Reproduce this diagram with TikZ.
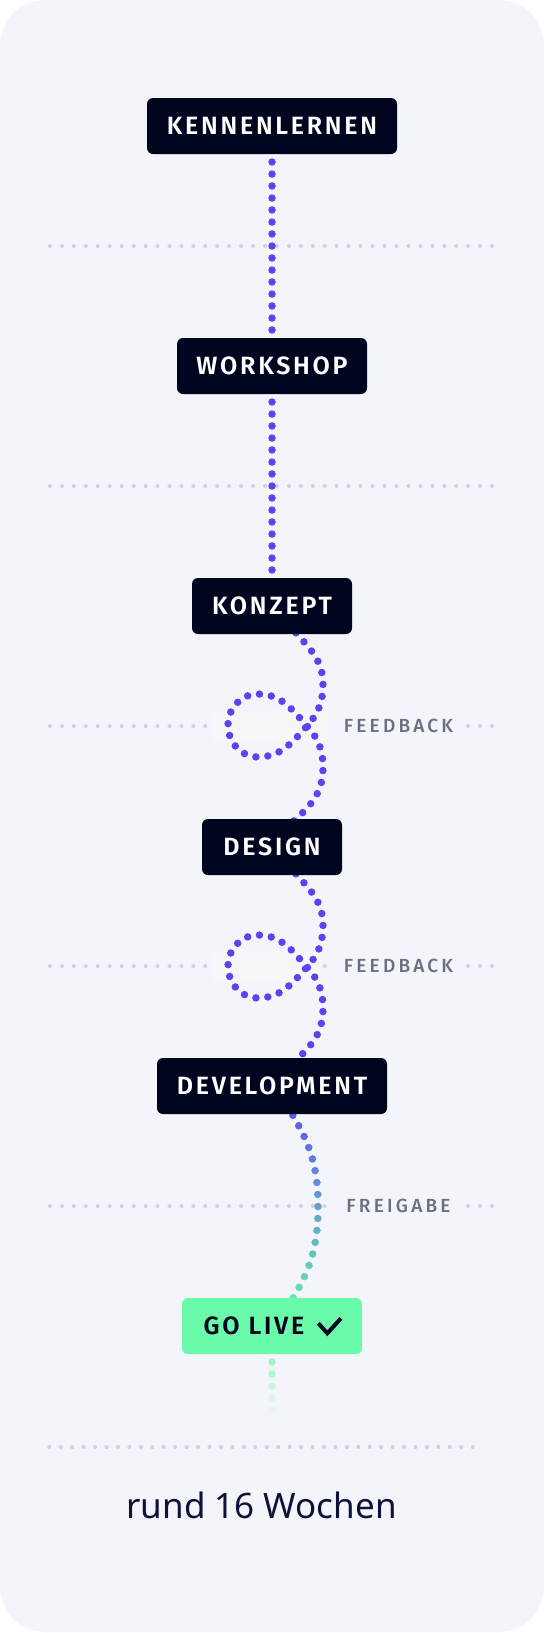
\documentclass[tikz,border=0pt]{standalone}
\usepackage{fontspec}
\setmainfont{Noto Sans}
\newfontfamily\boxfont[LetterSpace=11]{Fira Sans SemiBold}
\newfontfamily\labfont[LetterSpace=17]{Fira Sans Medium}
\usetikzlibrary{calc}
\definecolor{bgc}{HTML}{F4F5FA}
\definecolor{navy}{HTML}{00051F}
\definecolor{purp}{HTML}{5B43EE}
\definecolor{grn}{HTML}{6AFBAA}
\definecolor{dotgray}{HTML}{CDD3E1}
\definecolor{labgray}{HTML}{687183}
\definecolor{txtnavy}{HTML}{0E1238}
\definecolor{coverc}{HTML}{F7F7F9}
\pgfdeclarelayer{back}
\pgfdeclarelayer{lines}
\pgfsetlayers{back,lines,main}
\begin{document}
\begin{tikzpicture}[x=1pt,y=1pt,
  stage/.style={fill=navy, text=white, rounded corners=6pt, minimum height=56pt, inner sep=0pt,
    font=\boxfont\fontsize{25}{25}\selectfont},
  live/.style={stage, fill=grn, text=navy},
  fblabel/.style={text=labgray, inner sep=0pt, font=\labfont\fontsize{19}{19}\selectfont},
  pdots/.style={line width=7.5pt, line cap=round, dash pattern=on 0pt off 12pt},
  gdots/.style={dotgray, line width=4pt, line cap=round, dash pattern=on 0pt off 11.946pt},
]
\useasboundingbox (0,0) rectangle (544,-1633);

% stages
\node[stage, minimum width=250pt] (kennen) at (272,-126) {KENNENLERNEN};
\node[stage, minimum width=190pt] (workshop) at (272,-366) {WORKSHOP};
\node[stage, minimum width=160pt] (konzept) at (272,-606) {KONZEPT};
\node[stage, minimum width=140pt] (design) at (272,-847) {DESIGN};
\node[stage, minimum width=230pt] (dev) at (272,-1086) {DEVELOPMENT};
\node[live, minimum width=180pt] (golive) at (272,-1326) {GO LIVE\hspace*{36pt}};
\draw[navy, line width=4pt, miter limit=10] ([shift={(46.3,2.7)}]golive.center) -- ([shift={(55.3,-7.3)}]golive.center) -- ([shift={(69,7.7)}]golive.center);

% labels
\node[fblabel] (fb1) at (398.5,-726) {FEEDBACK};
\node[fblabel] (fb2) at (398.5,-966) {FEEDBACK};
\node[fblabel] (frei) at (398.5,-1206) {FREIGABE};
\node[font=\fontsize{35}{35}\selectfont, text=txtnavy, anchor=base, inner sep=0pt] (weeks) at (261.5,-1518.3) {rund 16 Wochen};
\coordinate (tailend) at (272,-1440);

\begin{pgfonlayer}{back}
  \fill[white] (0,0) rectangle (544,-1633);
  \fill[bgc, rounded corners=45pt] (0,0) rectangle (544,-1632);
  \draw[gdots] (50,-246) -- (492.5,-246);
  \draw[gdots] (50,-486) -- (492.5,-486);
  \draw[gdots] (50,-726) -- (206,-726);
  \draw[gdots] (468.1,-726) -- (492.5,-726);
  \fill[coverc] (213,-711) rectangle (329,-741);
  \draw[gdots] (50,-966) -- (206,-966);
  \fill[coverc] (213,-951) rectangle (320,-981);
  \fill[dotgray] (324.8,-966) circle (2pt);
  \draw[gdots] (468.1,-966) -- (492.5,-966);
  \draw[gdots] (50,-1206) -- (325.5,-1206);
  \draw[gdots] (468.1,-1206) -- (492.5,-1206);
  \draw[gdots, dash pattern=on 0pt off 11.443pt] (49.3,-1447) -- (473.2,-1447);
\end{pgfonlayer}

\begin{pgfonlayer}{lines}
  \draw[pdots, purp] (kennen.center) -- (workshop.center) -- (konzept.center);
  \foreach \s/\t in {konzept/design, design/dev}{
    \draw[pdots, purp] (\s.center) to[out=-55,in=132] ([shift={(25,-28)}]\s.center)
      to[out=-48,in=90] ([shift={(51,-78)}]\s.center)
      to[out=-90,in=48] ([shift={(35,-120)}]\s.center)
      to[out=228,in=0] ([shift={(-14,-151)}]\s.center)
      to[out=180,in=-90] ([shift={(-44,-119)}]\s.center)
      to[out=90,in=180] ([shift={(-14,-88)}]\s.center)
      to[out=0,in=132] ([shift={(35,-120)}]\s.center)
      to[out=-48,in=90] ([shift={(51,-162)}]\s.center)
      to[out=-90,in=42] ([shift={(25,-212)}]\s.center)
      to[out=222,in=55] (\t.center);
  }
  \foreach \i in {0,...,19}{
    \pgfmathsetmacro\p{(\i+0.5)*5}
    \pgfmathsetmacro\ya{-1086-12*\i}
    \pgfmathsetmacro\yb{-1086-12*(\i+1)}
    \begin{scope}
      \clip (0,\ya) rectangle (544,\yb);
      \draw[pdots, grn!\p!purp] (dev.center) to[out=-60,in=121] ([shift={(20,-28)}]dev.center)
        to[out=-59,in=90] ([shift={(46,-120)}]dev.center)
        to[out=-90,in=59] ([shift={(21,-212)}]dev.center)
        to[out=239,in=60] (golive.center);
    \end{scope}
  }
  \foreach \k/\o in {3/0.64,4/0.5,5/0.34,6/0.18,7/0.05}{
    \begin{scope}
      \clip (0,-1326-12*\k+6) rectangle (544,-1326-12*\k-6);
      \draw[pdots, grn, opacity=\o] (golive.center) -- (tailend);
    \end{scope}
  }
\end{pgfonlayer}
\end{tikzpicture}
\end{document}
